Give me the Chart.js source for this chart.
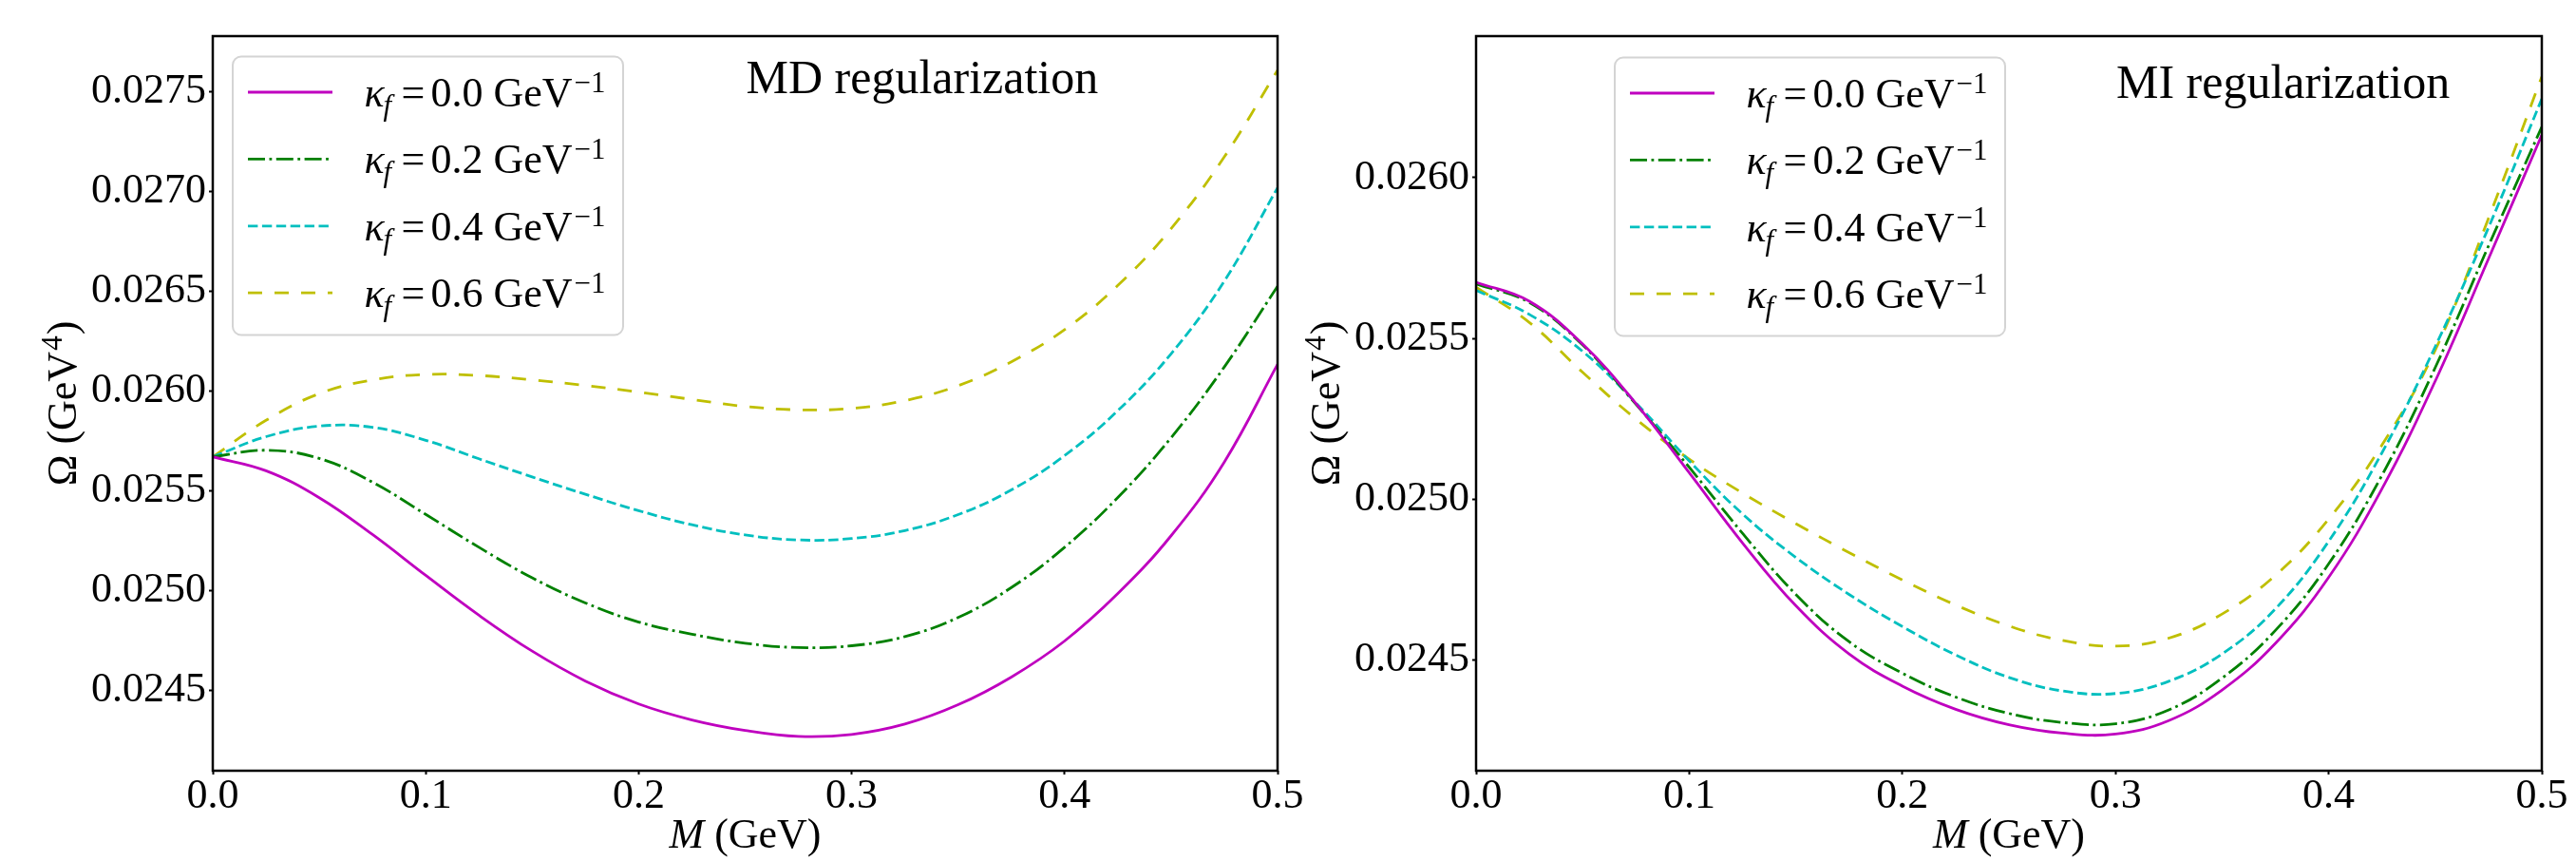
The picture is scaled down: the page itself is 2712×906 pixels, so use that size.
<!DOCTYPE html>
<html>
<head>
<meta charset="utf-8">
<script src="https://cdn.jsdelivr.net/npm/chart.js@4.4.1/dist/chart.umd.min.js"></script>
<style>
html, body { margin: 0; padding: 0; background: #ffffff; }
#wrap { position: relative; width: 2712px; height: 906px; background: #ffffff; overflow: hidden; }
.panel { position: absolute; top: 0; height: 906px; }
</style>
</head>
<body>
<div id="wrap">
  <div class="panel" style="left:0px; width:1420px;"><canvas id="chartMD"></canvas></div>
  <div class="panel" style="left:1356px; width:1356px;"><canvas id="chartMI"></canvas></div>
</div>
<script>
// ---------------- data ----------------
const massGeV = [0.000, 0.025, 0.050, 0.075, 0.100, 0.125, 0.150, 0.175, 0.200, 0.225, 0.250,
                 0.275, 0.300, 0.325, 0.350, 0.375, 0.400, 0.425, 0.450, 0.475, 0.500];

const kappaLabels = ['0.0', '0.2', '0.4', '0.6'];

// MD regularization: Omega (GeV^4)
const omegaMD_k00 = [0.025670, 0.025600, 0.025465, 0.025280, 0.025075, 0.024875, 0.024695, 0.024545, 0.024430, 0.024350, 0.024297,
                     0.024267, 0.024277, 0.024329, 0.024426, 0.024565, 0.024746, 0.024984, 0.025274, 0.025644, 0.026134];
const omegaMD_k02 = [0.025670, 0.025703, 0.025662, 0.025543, 0.025381, 0.025216, 0.025063, 0.024937, 0.024841, 0.024780, 0.024735,
                     0.024713, 0.024722, 0.024768, 0.024864, 0.025014, 0.025216, 0.025466, 0.025766, 0.026121, 0.026526];
const omegaMD_k04 = [0.025670, 0.025771, 0.025824, 0.025818, 0.025753, 0.025660, 0.025569, 0.025482, 0.025400, 0.025329, 0.025278,
                     0.025253, 0.025260, 0.025300, 0.025380, 0.025504, 0.025676, 0.025902, 0.026187, 0.026552, 0.027020];
const omegaMD_k06 = [0.025670, 0.025853, 0.025987, 0.026056, 0.026083, 0.026078, 0.026056, 0.026028, 0.025995, 0.025958, 0.025923,
                     0.025906, 0.025913, 0.025952, 0.026027, 0.026147, 0.026308, 0.026530, 0.026815, 0.027175, 0.027610];

// MI regularization: Omega (GeV^4)
const omegaMI_k00 = [0.025675, 0.025616, 0.025483, 0.025298, 0.025083, 0.024865, 0.024670, 0.024520, 0.024420, 0.024348, 0.024300,
                     0.024274, 0.024271, 0.024313, 0.024408, 0.024553, 0.024758, 0.025033, 0.025368, 0.025748, 0.026133];
const omegaMI_k02 = [0.025670, 0.025612, 0.025480, 0.025296, 0.025100, 0.024895, 0.024705, 0.024558, 0.024460, 0.024386, 0.024335,
                     0.024307, 0.024303, 0.024346, 0.024445, 0.024593, 0.024800, 0.025075, 0.025410, 0.025788, 0.026158];
const omegaMI_k04 = [0.025650, 0.025575, 0.025460, 0.025300, 0.025120, 0.024955, 0.024820, 0.024705, 0.024605, 0.024517, 0.024447,
                     0.024405, 0.024397, 0.024435, 0.024520, 0.024660, 0.024870, 0.025145, 0.025475, 0.025845, 0.026245];
const omegaMI_k06 = [0.025660, 0.025550, 0.025395, 0.025250, 0.025125, 0.025020, 0.024925, 0.024835, 0.024750, 0.024672, 0.024607,
                     0.024562, 0.024544, 0.024569, 0.024644, 0.024764, 0.024939, 0.025169, 0.025464, 0.025874, 0.026314];

// tick labels / axis ranges
const xTickValues = [0.0, 0.1, 0.2, 0.3, 0.4, 0.5];
const yTickValuesMD = [0.0245, 0.0250, 0.0255, 0.0260, 0.0265, 0.0270, 0.0275];
const yTickValuesMI = [0.0245, 0.0250, 0.0255, 0.0260];
const xRange = [0.0, 0.5];
const yRangeMD = [0.024095, 0.027781];
const yRangeMI = [0.024157, 0.026440];

// ---------------- styles ----------------
const FONT = "'Liberation Serif', 'Times New Roman', Times, serif";
const seriesColors = ['#bf00bf', '#008000', '#00bfbf', '#bfbf00'];
const seriesDashes = [[], [18, 4.5, 2.8, 4.5], [10.4, 4.5], [15, 13]];
const LW = 2.8;

function toPoints(ys) { return massGeV.map((m, i) => ({ x: m, y: ys[i] })); }

function buildDatasets(seriesList) {
  return seriesList.map((ys, i) => ({
    label: 'κf = ' + kappaLabels[i] + ' GeV⁻¹',
    data: toPoints(ys),
    borderColor: seriesColors[i],
    backgroundColor: seriesColors[i],
    borderWidth: LW,
    borderDash: seriesDashes[i],
    borderCapStyle: 'butt',
    pointRadius: 0,
    fill: false,
    tension: 0.4
  }));
}

function drawKappaLabel(ctx, x, base, val) {
  ctx.fillStyle = '#000';
  ctx.textAlign = 'left';
  ctx.textBaseline = 'alphabetic';
  ctx.font = 'italic 44px ' + FONT;
  ctx.fillText('κ', x, base);
  const kw = ctx.measureText('κ').width;
  ctx.font = 'italic 31px ' + FONT;
  ctx.fillText('f', x + kw - 1, base + 9);
  ctx.font = '44px ' + FONT;
  ctx.fillText('=', x + 39, base);
  const txt = val + ' GeV';
  ctx.fillText(txt, x + 70, base);
  const tw = ctx.measureText(txt).width;
  ctx.font = '31px ' + FONT;
  ctx.fillText('−1', x + 70 + tw + 2, base - 15);
}

function makeDecor(cfg) {
  return {
    id: 'panelDecor',
    afterDatasetsDraw(chart) {
      const ctx = chart.ctx;
      const a = chart.chartArea;
      ctx.save();
      // frame (all four spines)
      ctx.setLineDash([]);
      ctx.strokeStyle = '#000';
      ctx.lineWidth = 2.5;
      ctx.strokeRect(a.left, a.top, a.right - a.left, a.bottom - a.top);

      // annotation text
      ctx.fillStyle = '#000';
      ctx.textAlign = 'left';
      ctx.textBaseline = 'alphabetic';
      ctx.font = '50px ' + FONT;
      ctx.fillText(cfg.note, a.left + cfg.noteDx, cfg.noteBaseline);

      // legend box
      const bx = a.left + cfg.legDx, by = a.top + cfg.legDy, bw = 411, bh = 293;
      ctx.beginPath();
      ctx.roundRect(bx, by, bw, bh, 9);
      ctx.fillStyle = 'rgba(255,255,255,0.85)';
      ctx.fill();
      ctx.strokeStyle = '#d4d4d4';
      ctx.lineWidth = 2;
      ctx.stroke();
      for (let i = 0; i < kappaLabels.length; i++) {
        const ly = by + 37.5 + i * 70.4;
        ctx.beginPath();
        ctx.setLineDash(seriesDashes[i]);
        ctx.lineCap = 'butt';
        ctx.strokeStyle = seriesColors[i];
        ctx.lineWidth = LW;
        ctx.moveTo(bx + 16, ly);
        ctx.lineTo(bx + 105, ly);
        ctx.stroke();
        ctx.setLineDash([]);
        drawKappaLabel(ctx, bx + 138.5, ly + 15, kappaLabels[i]);
      }

      // x axis title: M (GeV)
      ctx.fillStyle = '#000';
      ctx.font = 'italic 44px ' + FONT;
      const w1 = ctx.measureText('M').width;
      ctx.font = '44px ' + FONT;
      const w2 = ctx.measureText(' (GeV)').width;
      const cx = (a.left + a.right) / 2;
      const sx = cx - (w1 + w2) / 2;
      ctx.font = 'italic 44px ' + FONT;
      ctx.fillText('M', sx, 892);
      ctx.font = '44px ' + FONT;
      ctx.fillText(' (GeV)', sx + w1, 892);

      // y axis title: Ω (GeV⁴)
      ctx.save();
      ctx.translate(a.left - 144, (a.top + a.bottom) / 2);
      ctx.rotate(-Math.PI / 2);
      ctx.font = '44px ' + FONT;
      const p1 = 'Ω (GeV';
      const q1 = ctx.measureText(p1).width;
      ctx.font = '31px ' + FONT;
      const q2 = ctx.measureText('4').width;
      ctx.font = '44px ' + FONT;
      const q3 = ctx.measureText(')').width;
      const ty = -(q1 + q2 + q3 + 2) / 2;
      ctx.fillText(p1, ty, 0);
      ctx.font = '31px ' + FONT;
      ctx.fillText('4', ty + q1 + 1, -15);
      ctx.font = '44px ' + FONT;
      ctx.fillText(')', ty + q1 + q2 + 2, 0);
      ctx.restore();

      ctx.restore();
    }
  };
}

function makeChart(canvasId, seriesList, yRange, yTicks, yAxisWidth, padRight, decor) {
  const ctx = document.getElementById(canvasId).getContext('2d');
  return new Chart(ctx, {
    type: 'line',
    data: { datasets: buildDatasets(seriesList) },
    options: {
      responsive: true,
      maintainAspectRatio: false,
      animation: false,
      devicePixelRatio: 1,
      layout: { padding: { left: 0, right: padRight, top: 38, bottom: 0 } },
      plugins: { legend: { display: false }, tooltip: { enabled: false } },
      scales: {
        x: {
          type: 'linear',
          min: xRange[0], max: xRange[1],
          afterBuildTicks: (s) => { s.ticks = xTickValues.map(v => ({ value: v })); },
          afterFit: (s) => { s.height = 95; s.paddingLeft = 0; s.paddingRight = 0; },
          ticks: {
            callback: (v) => Number(v).toFixed(1),
            color: '#000',
            font: { family: FONT, size: 44, lineHeight: 1 },
            padding: 1,
            maxRotation: 0, autoSkip: false
          },
          grid: { display: true, drawOnChartArea: false, drawTicks: true, tickLength: 4, tickWidth: 2, color: '#000' },
          border: { display: false }
        },
        y: {
          type: 'linear',
          min: yRange[0], max: yRange[1],
          afterBuildTicks: (s) => { s.ticks = yTicks.map(v => ({ value: v })); },
          afterFit: (s) => { s.width = yAxisWidth; s.paddingTop = 0; s.paddingBottom = 0; },
          ticks: {
            callback: (v) => Number(v).toFixed(4),
            color: '#000',
            font: { family: FONT, size: 44, lineHeight: 1 },
            padding: 3,
            autoSkip: false
          },
          grid: { display: true, drawOnChartArea: false, drawTicks: true, tickLength: 4, tickWidth: 2, color: '#000' },
          border: { display: false }
        }
      }
    },
    plugins: [decor]
  });
}

makeChart('chartMD',
  [omegaMD_k00, omegaMD_k02, omegaMD_k04, omegaMD_k06],
  yRangeMD, yTickValuesMD, 224, 75,
  makeDecor({ note: 'MD regularization', noteDx: 561.5, noteBaseline: 98, legDx: 21, legDy: 21.5 }));

makeChart('chartMI',
  [omegaMI_k00, omegaMI_k02, omegaMI_k04, omegaMI_k06],
  yRangeMI, yTickValuesMI, 198, 36,
  makeDecor({ note: 'MI regularization', noteDx: 674, noteBaseline: 103, legDx: 146, legDy: 22.5 }));
</script>
</body>
</html>
